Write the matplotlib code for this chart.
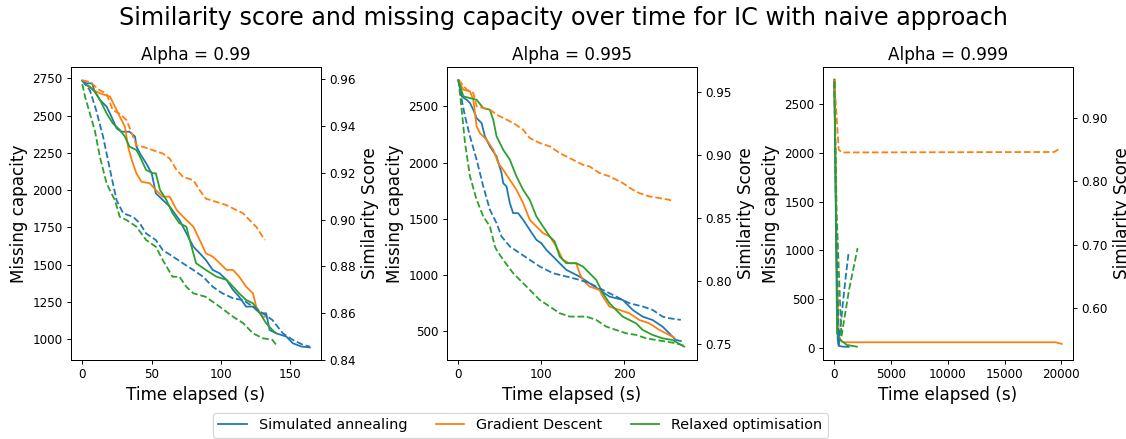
import numpy as np
import matplotlib
matplotlib.use("Agg")
import matplotlib.pyplot as plt
from matplotlib.ticker import FormatStrFormatter

alphas = ["0.99", "0.995", "0.999"]
methods = ["Simulated annealing", "Gradient Descent", "Relaxed optimisation"]

# ---- alpha = 0.99 ----
sa99_t = [0, 3, 7, 9, 12.7, 17.5, 21, 24.7, 28, 34, 38, 39, 41.5, 46, 50, 53, 58, 63, 70, 75, 80,
          84.6, 89, 94, 99, 104, 108.6, 113, 118, 123, 128, 132.5, 135, 139.7, 147, 151.7, 158, 164]
sa99_cap = [2734, 2716, 2716, 2660, 2605, 2560, 2493, 2415, 2392, 2392, 2359, 2292, 2247, 2180, 2113,
            1979, 1934, 1890, 1800, 1711, 1621, 1577, 1532, 1465, 1442, 1398, 1331, 1286, 1219, 1219,
            1174, 1174, 1062, 1040, 1018, 973, 951, 945]
sa99_st = [0, 5.5, 10, 15, 20, 24.7, 29.5, 36.7, 41.5, 46, 53, 58, 65.4, 72.6, 80, 87, 94, 101,
           108.6, 116, 123, 130, 137, 144.5, 151.7, 159, 164]
sa99_sim = [0.9596, 0.9553, 0.9468, 0.9354, 0.9212, 0.9083, 0.9027, 0.9012, 0.8984, 0.8941, 0.8913,
            0.8870, 0.8842, 0.8813, 0.8785, 0.8756, 0.8713, 0.8685, 0.8664, 0.8656, 0.8628, 0.8600,
            0.8571, 0.8514, 0.8486, 0.8465, 0.8457]

gd99_t = [0, 3, 8, 12.7, 20, 27, 30.7, 33, 35.7, 39, 42.6, 48.6, 53, 58, 63, 68, 72.6, 80, 84.6, 89,
          94, 99, 104, 108.6, 113, 118, 123, 125.3, 130, 131.5]
gd99_cap = [2734, 2705, 2672, 2649, 2627, 2493, 2426, 2290, 2200, 2113, 2057, 2046, 2001, 1956, 1956,
            1867, 1822, 1755, 1666, 1577, 1554, 1510, 1465, 1465, 1420, 1353, 1308, 1219, 1152, 1150]
gd99_st = [0, 5.5, 12.7, 17.5, 22, 27, 32, 35.7, 39, 44, 51, 58, 63, 68, 72.6, 80, 84.6, 89, 96.6,
           104, 111, 116, 120.5, 125.3, 130, 131.5]
gd99_sim = [0.9596, 0.9589, 0.9553, 0.9539, 0.9468, 0.9453, 0.9425, 0.9368, 0.9318, 0.9311, 0.9297,
            0.9283, 0.9261, 0.9212, 0.9183, 0.9169, 0.9126, 0.9090, 0.9076, 0.9062, 0.9041, 0.9027,
            0.8998, 0.8970, 0.8927, 0.8913]

ro99_t = [0, 3, 5.5, 10, 12.7, 17.5, 22, 27, 30.7, 34, 39, 41.5, 46, 51, 53, 56, 60.6, 65, 70, 75,
          77.4, 82, 89, 96.6, 104, 108.6, 113, 118, 123, 128, 132.5, 137, 139.7]
ro99_cap = [2734, 2705, 2694, 2649, 2605, 2515, 2448, 2404, 2359, 2292, 2269, 2225, 2135, 2113, 2113,
            2001, 1934, 1845, 1778, 1755, 1666, 1510, 1465, 1420, 1398, 1353, 1308, 1264, 1241, 1174,
            1107, 1062, 1040]
ro99_st = [0, 2, 5.5, 9, 12.7, 17.5, 23.5, 27, 32, 39, 46, 53, 58, 65, 70, 75, 80, 89, 99, 108.6,
           116, 123, 130, 137, 139.7]
ro99_sim = [0.9580, 0.9525, 0.9453, 0.9382, 0.9268, 0.9155, 0.9083, 0.9012, 0.8998, 0.8970, 0.8913,
            0.8884, 0.8827, 0.8756, 0.8756, 0.8713, 0.8685, 0.8670, 0.8628, 0.8585, 0.8557, 0.8514,
            0.8493, 0.8486, 0.8465]

# ---- alpha = 0.995 ----
sa995_t = [0, 4, 10, 14, 18, 22, 28, 32, 38, 46, 52, 54, 58, 62, 66, 72, 78, 86, 94, 100, 106, 114,
           122, 130, 138, 146, 158, 170, 182, 198, 210, 222, 234, 246, 254, 262, 268]
sa995_cap = [2732, 2589, 2559, 2530, 2470, 2396, 2351, 2233, 2143, 2054, 1906, 1816, 1787, 1638, 1549,
             1549, 1490, 1400, 1311, 1281, 1222, 1163, 1103, 1044, 1014, 984, 925, 865, 806, 776, 687,
             627, 597, 538, 479, 419, 410]
sa995_st = [0, 4, 8, 14, 22, 30, 38, 46, 52, 62, 74, 86, 98, 114, 130, 146, 158, 174, 190, 206, 222,
            234, 246, 254, 268]
sa995_sim = [0.9598, 0.9439, 0.9307, 0.9148, 0.8963, 0.8751, 0.8566, 0.8460, 0.8354, 0.8275, 0.8222,
             0.8169, 0.8116, 0.8063, 0.8037, 0.8010, 0.7984, 0.7931, 0.7878, 0.7825, 0.7799, 0.7772,
             0.7719, 0.7706, 0.7693]

gd995_t = [0, 6, 14, 18, 22, 26, 34, 42, 48, 54, 62, 70, 78, 86, 94, 102, 110, 118, 126, 134, 142,
           146, 150, 158, 170, 174, 182, 194, 206, 218, 230, 242, 250, 260]
gd995_cap = [2732, 2649, 2634, 2559, 2322, 2262, 2203, 2114, 1995, 1935, 1846, 1757, 1638, 1490, 1430,
             1371, 1341, 1252, 1133, 1103, 1103, 1014, 955, 895, 865, 806, 717, 687, 657, 597, 568,
             509, 479, 440]
gd995_st = [0, 10, 18, 22, 30, 38, 46, 54, 66, 78, 86, 98, 110, 122, 134, 150, 158, 170, 182, 198,
            210, 218, 230, 242, 254, 259]
gd995_sim = [0.9598, 0.9519, 0.9492, 0.9386, 0.9373, 0.9360, 0.9320, 0.9294, 0.9254, 0.9201, 0.9135,
             0.9095, 0.9069, 0.9016, 0.8976, 0.8923, 0.8910, 0.8857, 0.8831, 0.8778, 0.8725, 0.8698,
             0.8672, 0.8659, 0.8645, 0.8632]

ro995_t = [0, 6, 14, 22, 30, 38, 42, 46, 54, 62, 70, 78, 86, 94, 102, 110, 116, 122, 130, 142, 150,
           158, 166, 174, 182, 190, 198, 206, 214, 222, 234, 246, 258, 272]
ro995_cap = [2732, 2589, 2574, 2559, 2485, 2470, 2381, 2233, 2114, 2025, 1876, 1757, 1668, 1519, 1430,
             1341, 1297, 1163, 1103, 1103, 1074, 1014, 955, 836, 747, 687, 627, 597, 568, 509, 464,
             434, 419, 360]
ro995_st = [0, 4, 8, 14, 22, 30, 38, 44, 46, 54, 66, 78, 90, 98, 110, 122, 134, 146, 154, 166, 178,
            190, 202, 214, 226, 238, 250, 262, 272]
ro995_sim = [0.9598, 0.9360, 0.9095, 0.8831, 0.8645, 0.8513, 0.8434, 0.8275, 0.8248, 0.8169, 0.8063,
             0.7984, 0.7904, 0.7851, 0.7799, 0.7746, 0.7719, 0.7719, 0.7719, 0.7693, 0.7640, 0.7613,
             0.7587, 0.7574, 0.7547, 0.7534, 0.7521, 0.7508, 0.7487]

# ---- alpha = 0.999 ----
sa999_t = [0, 150, 292, 380, 700, 1250]
sa999_cap = [2745, 1300, 86, 25, 18, 15]
sa999_st = [0, 150, 380, 700, 1000, 1255]
sa999_sim = [0.958, 0.75, 0.54, 0.60, 0.65, 0.688]

gd999_t = [0, 200, 380, 670, 963, 19500, 20030]
gd999_cap = [2745, 900, 120, 66, 62, 62, 45]
gd999_st = [0, 100, 380, 670, 19360, 19944]
gd999_sim = [0.9605, 0.93, 0.850, 0.8458, 0.8465, 0.8527]

ro999_t = [0, 234, 525, 1110, 1985]
ro999_cap = [2745, 154, 86, 34, 17]
ro999_st = [0, 200, 613, 1300, 2044]
ro999_sim = [0.958, 0.75, 0.555, 0.63, 0.695]

runs = [
    [(sa99_t, sa99_cap, sa99_st, sa99_sim), (gd99_t, gd99_cap, gd99_st, gd99_sim),
     (ro99_t, ro99_cap, ro99_st, ro99_sim)],
    [(sa995_t, sa995_cap, sa995_st, sa995_sim), (gd995_t, gd995_cap, gd995_st, gd995_sim),
     (ro995_t, ro995_cap, ro995_st, ro995_sim)],
    [(sa999_t, sa999_cap, sa999_st, sa999_sim), (gd999_t, gd999_cap, gd999_st, gd999_sim),
     (ro999_t, ro999_cap, ro999_st, ro999_sim)],
]

xlims = [(-8.2, 172), (-13.7, 287.5), (-1000, 21030)]
cap_lims = [(861, 2826), (241, 2851), (-119, 2875)]
sim_lims = [(0.840, 0.9653), (0.7375, 0.9698), (0.5186, 0.9805)]
colors = ["C0", "C1", "C2"]

DPI = 86
fig, axes = plt.subplots(1, 3, figsize=(1126 / DPI, 439 / DPI), dpi=DPI)
plt.subplots_adjust(left=0.063, right=0.953, bottom=0.18, top=0.8474, wspace=0.504)

handles = []
for i, ax in enumerate(axes):
    ax2 = ax.twinx()
    for j, (t, cap, st, sim) in enumerate(runs[i]):
        line, = ax.plot(t, cap, color=colors[j], label=methods[j])
        ax2.plot(st, sim, color=colors[j], linestyle="--")
        if i == 0:
            handles.append(line)
    ax.set_xlim(*xlims[i])
    ax.set_ylim(*cap_lims[i])
    ax2.set_ylim(*sim_lims[i])
    ax2.yaxis.set_major_formatter(FormatStrFormatter("%.2f"))
    ax.set_title("Alpha = " + alphas[i], fontsize=14)
    ax.set_xlabel("Time elapsed (s)", fontsize=14)
    ax.set_ylabel("Missing capacity", fontsize=14)
    ax2.set_ylabel("Similarity Score", fontsize=14)

fig.suptitle("Similarity score and missing capacity over time for IC with naive approach",
             fontsize=20, y=0.96, va="center")
fig.legend(handles, methods, loc="upper center", bbox_to_anchor=(0.462, 0.06), ncol=3,
           fontsize=12, borderaxespad=0)

fig.savefig("out.png", dpi=DPI)
